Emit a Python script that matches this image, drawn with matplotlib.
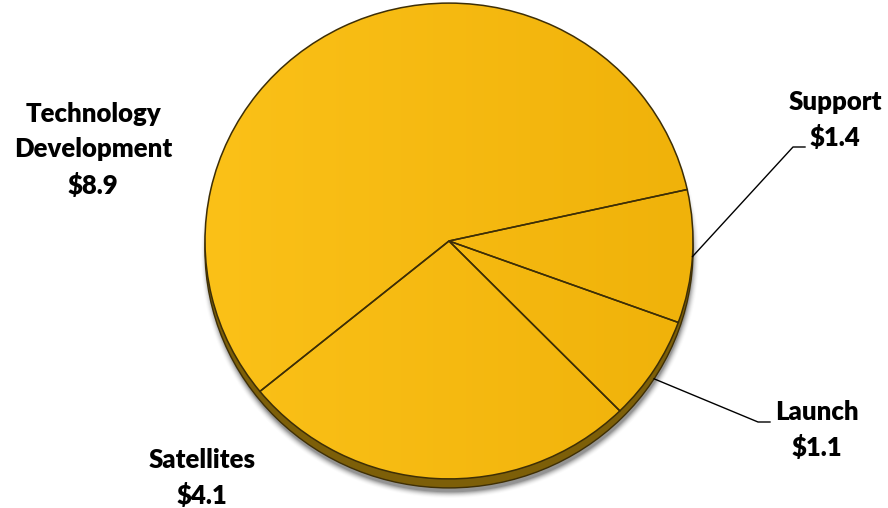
import numpy as np
import matplotlib.pyplot as plt
from matplotlib.patches import Ellipse
from matplotlib.transforms import Affine2D

# budget split (billions of dollars)
categories = ["Technology\nDevelopment", "Satellites", "Launch", "Support"]
values = [8.9, 4.1, 1.1, 1.4]
value_labels = ["$8.9", "$4.1", "$1.1", "$1.4"]

W, H = 888, 508
cx, cy = 449, H - 241      # pie centre in pixel units (y up)
rx, squash = 244, 0.975     # radius and vertical squash of the tilted disc
depth = 9                   # thickness of the disc edge

face = "#f5b90f"
side = "#7d5f08"
edge = "#3d2e06"

fig = plt.figure(figsize=(W / 100, H / 100), dpi=100)
ax = fig.add_axes([0, 0, 1, 1])

# soft shadow under the disc
yy, xx = np.mgrid[0:H, 0:W]
r = np.hypot((xx - cx) / (rx + 2), (H - yy - (cy - depth - 5)) / (rx * squash + 2))
shadow = np.clip(1 - (r - 0.985) / 0.03, 0, 1) ** 2
img = np.zeros((H, W, 4))
img[..., :3] = 0.3
img[..., 3] = 0.6 * shadow
ax.imshow(img, extent=(0, W, 0, H), origin="upper", zorder=0)

# edge of the disc
ax.add_patch(Ellipse((cx, cy - depth), 2 * rx, 2 * rx * squash,
                     facecolor=side, edgecolor="#3f2f04", lw=1.0, zorder=1))

# top face with a faint left-to-right shading
top = Ellipse((cx, cy), 2 * rx, 2 * rx * squash, facecolor="none",
              edgecolor="none", zorder=2)
ax.add_patch(top)
grad = np.linspace(0, 1, 200)[None, :]
shade = np.zeros((1, 200, 3))
c0 = np.array([251, 193, 24]) / 255
c1 = np.array([240, 178, 10]) / 255
shade[0] = c0 + (c1 - c0) * grad.T
gimg = ax.imshow(shade, extent=(cx - rx, cx + rx, cy - rx, cy + rx),
                 aspect="auto", zorder=2)
gimg.set_clip_path(top)

# slices
wedges, _ = ax.pie(values, startangle=12.5, counterclock=True, radius=rx,
                   center=(0, 0), frame=True,
                   wedgeprops=dict(facecolor="none", edgecolor=edge, lw=1.1))
tr = Affine2D().scale(1, squash).translate(cx, cy) + ax.transData
for w in wedges:
    w.set_transform(tr)
    w.set_zorder(3)

ax.set_aspect("auto")
ax.set_xlim(0, W)
ax.set_ylim(0, H)
ax.axis("off")

font = dict(family=["Lato", "DejaVu Sans"], fontweight="heavy", fontsize=18.5,
            ha="center", va="center", linespacing=1.55, color="black")

# Technology Development and Satellites: plain labels
ax.text(93, H - 150, categories[0] + "\n" + value_labels[0], **font)
ax.text(202, H - 478, categories[1] + "\n" + value_labels[1], **font,
        zorder=5)


def edge_point(i, drop=0):
    mid = np.deg2rad((wedges[i].theta1 + wedges[i].theta2) / 2)
    return cx + rx * np.cos(mid), cy + rx * squash * np.sin(mid) - drop


# Launch and Support: labels with leader lines
for i, (tx, ty, kx, ky, drop) in zip(
        [2, 3], [(817, H - 430, 770, H - 422, depth),
                 (835, H - 120, 805, H - 147, 0)]):
    ax.text(tx, ty, categories[i] + "\n" + value_labels[i], **font)
    px, py = edge_point(i, drop)
    ax.plot([px, kx - 12, kx], [py, ky, ky], color="black", lw=1.0,
            zorder=4)

fig.savefig("out.png", dpi=100)
